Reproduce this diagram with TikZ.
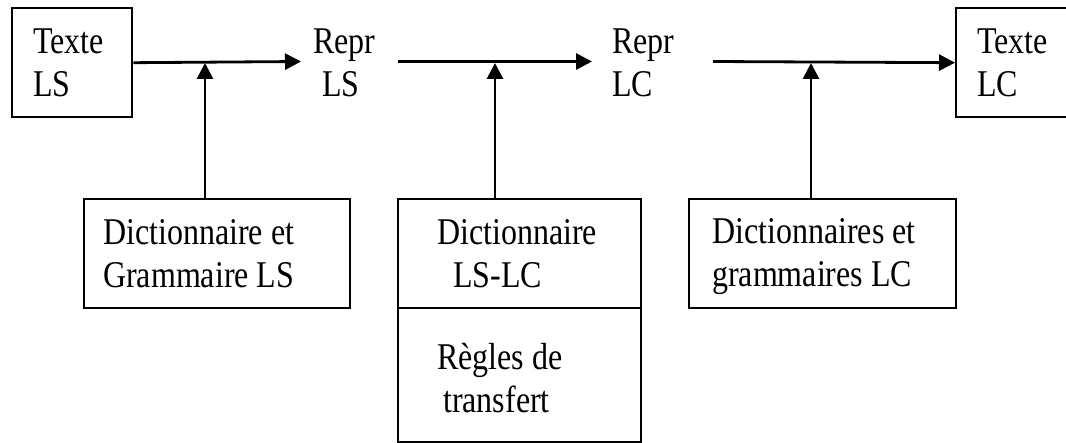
\documentclass[tikz,border=0pt]{standalone}
\usepackage{fontspec}
\setmainfont{Liberation Serif}
\usepackage{graphicx}
\usetikzlibrary{arrows.meta,positioning}
% two-line text block, slightly stretched vertically
\newcommand{\tallrows}[1]{\scalebox{1}[1.18]{\begin{tabular}{@{}l@{}}#1\end{tabular}}}

\begin{document}
\begin{tikzpicture}[x=1pt,y=-1pt,
  frame/.style={draw, line width=2.4pt, inner sep=0pt, anchor=north west},
  words/.style={inner sep=0pt, anchor=west, font=\fontsize{32}{36.5}\selectfont},
  flow/.style={line width=2.8pt, -{Triangle[length=16pt,width=16pt]}}
]
\useasboundingbox (0,0) rectangle (1066,443);

% top row: source text, representations, target text
\node[frame, minimum width=120pt, minimum height=109pt] (srcbox) at (11,7) {};
\node[words, right=22pt of srcbox.west, yshift=-4pt] (srctxt) {\tallrows{Texte\\LS}};

\node[words] (reprls) at (313,66) {\tallrows{Repr\\\hspace*{9pt}LS}};
\node[words] (reprlc) at (612,66) {\tallrows{Repr\\LC}};

\node[frame, minimum width=130pt, minimum height=109pt] (dstbox) at (955,7) {};
\node[words, right=22pt of dstbox.west, yshift=-4pt] (dsttxt) {\tallrows{Texte\\LC}};

% bottom row: resources
\node[frame, minimum width=266pt, minimum height=109pt] (lsdict) at (83,198) {};
\node[words, right=20pt of lsdict.west, yshift=-4pt] (lsdicttxt) {\tallrows{Dictionnaire et\\Grammaire LS}};

\node[frame, minimum width=243pt, minimum height=109pt] (bidict) at (397,198) {};
\node[words, right=40pt of bidict.west, yshift=-4pt] (bidicttxt) {\tallrows{Dictionnaire\\\hspace*{16pt}LS-LC}};
\node[frame, minimum width=243pt, minimum height=134pt] (rules) at (397,307) {};
\node[words, right=40pt of rules.west, yshift=-7pt] (rulestxt) {\tallrows{Règles de\\\hspace*{6pt}transfert}};

\node[frame, minimum width=267pt, minimum height=109pt] (lcdict) at (688,198) {};
\node[words, right=24pt of lcdict.west, yshift=-3pt] (lcdicttxt) {\tallrows{Dictionnaires et\\grammaires LC}};

% free ends of the main flow
\coordinate (e1) at (301,61.5);
\coordinate (s2) at (398,61.5);
\coordinate (e2) at (592,61.5);
\coordinate (s3) at (713,61.5);

% junctions where resources feed the flow
\coordinate (j1) at (205,63);
\coordinate (j2) at (495,63);
\coordinate (j3) at (811,63);

% main flow
\draw[flow] (srcbox.east) -- (e1);
\draw[flow] (s2) -- (e2);
\draw[flow] (s3) -- (dstbox.west);

% resource inputs
\draw[flow] (lsdict.north -| j1) -- (j1);
\draw[flow] (bidict.north -| j2) -- (j2);
\draw[flow] (lcdict.north -| j3) -- (j3);
\end{tikzpicture}
\end{document}
